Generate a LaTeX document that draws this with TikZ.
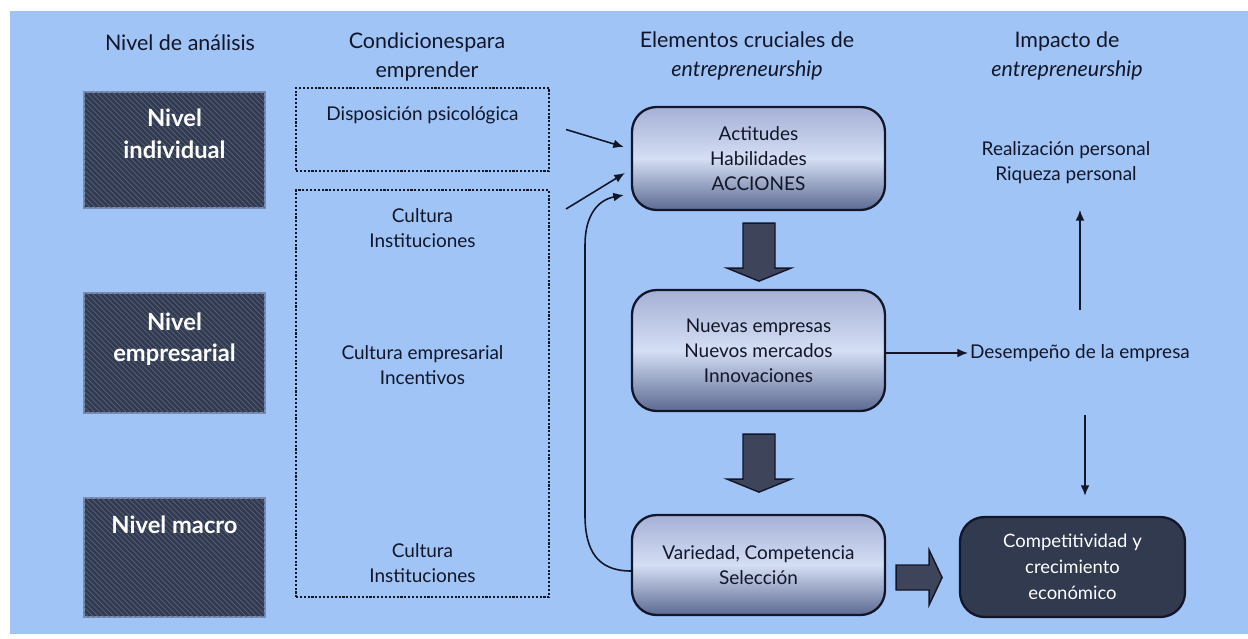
\documentclass[tikz,border=0pt]{standalone}
\usepackage{fontspec}
\setmainfont{Lato}
\usetikzlibrary{arrows.meta,calc,patterns}
\definecolor{bgblue}{RGB}{160,196,246}
\definecolor{navy}{RGB}{18,22,40}
\definecolor{darkbox}{RGB}{50,58,80}
\definecolor{hatch}{RGB}{88,98,124}
\definecolor{hatchline}{RGB}{120,140,180}
\definecolor{boxtop}{RGB}{165,176,214}
\definecolor{boxmid}{RGB}{212,222,244}
\definecolor{boxbot}{RGB}{92,106,146}
\definecolor{blockgray}{RGB}{62,68,90}
\begin{document}
\begin{tikzpicture}[x=0.02cm,y=-0.02cm,
    hdr/.style={font=\fontsize{12.2}{16.4}\selectfont,align=center,text=navy,inner sep=1pt},
    txt/.style={font=\fontsize{10.8}{14.2}\selectfont,align=center,text=navy,inner sep=1pt},
    nivel/.style={draw=hatchline,line width=0.8pt,fill=darkbox,
        postaction={pattern=north west lines,pattern color=hatch},
        minimum width=3.62cm,inner sep=0pt},
    nivtxt/.style={font=\bfseries\fontsize{13.5}{18}\selectfont,align=center,text=white},
    cond/.style={draw=navy,line width=1.2pt,densely dotted,minimum width=5.06cm,inner sep=0pt},
    elem/.style={draw=navy,line width=1.3pt,rounded corners=14pt,minimum width=5.06cm,
        top color=boxtop,bottom color=boxbot,middle color=boxmid,
        font=\fontsize{10.8}{14.2}\selectfont,align=center,text=navy},
    impacto/.style={draw=navy,line width=1.3pt,rounded corners=14pt,fill=darkbox,
        minimum width=4.5cm,minimum height=2cm,
        font=\fontsize{10.5}{14.7}\selectfont,align=center,text=white},
    arr/.style={-{Latex[length=6pt,width=5pt]},line width=0.9pt,draw=navy},
    blockarr/.style={fill=blockgray,draw=navy,line width=0.8pt}]

\useasboundingbox (0,0) rectangle (1248,639);
\fill[bgblue] (10,11) rectangle (1248,634);

% column headings
\node[hdr] (h1) at (180,43) {Nivel de análisis};
\node[hdr] (h2) at (427,57) {Condicionespara\\emprender};
\node[hdr] (h3) at (747,56) {Elementos cruciales de\\\textit{entrepreneurship}};
\node[hdr] (h4) at (1067,56) {Impacto de\\\textit{entrepreneurship}};

% levels of analysis
\node[nivel,minimum height=2.32cm] (ind) at (174.5,150) {};
\node[nivel,minimum height=2.4cm] (emp) at (174.5,353) {};
\node[nivel,minimum height=2.38cm] (mac) at (174.5,557.5) {};
\node[nivtxt] (indtxt) at (174.5,134) {Nivel\\individual};
\node[nivtxt] (emptxt) at (174.5,339) {Nivel\\empresarial};
\node[nivtxt] (mactxt) at (174.5,525) {Nivel macro};

% conditions
\node[cond,minimum height=1.66cm] (disp) at (422.5,129.5) {};
\node[cond,minimum height=8.14cm] (cond) at (422.5,393.5) {};
\node[txt] (disptxt) at (422.5,115) {Disposición psicológica};
\node[txt] (cul1) at (422.5,228) {Cultura\\Instituciones};
\node[txt] (culemp) at (422.5,365) {Cultura empresarial\\Incentivos};
\node[txt] (cul2) at (422.5,563) {Cultura\\Instituciones};

% crucial elements
\node[elem,minimum height=2.06cm] (act) at (758.5,158.5) {Actitudes\\Habilidades\\ACCIONES};
\node[elem,minimum height=2.42cm] (nue) at (758.5,350.5) {Nuevas empresas\\Nuevos mercados\\Innovaciones};
\node[elem,minimum height=2cm] (var) at (758.5,565) {Variedad, Competencia\\Selección};

% impact
\node[txt,anchor=center] (rea) at (1066,163) {Realización personal\\Riqueza personal};
\node[txt,anchor=west] (des) at (968,353) {Desempeño de la empresa};
\node[impacto] (comp) at (1072.5,567) {Competitividad y\\crecimiento\\económico};

% thin arrows
\coordinate (s1) at ($(disp.east)+(16,0)$);
\coordinate (s2) at ($(cond.north east)+(16,20)$);
\coordinate (in1) at ($(act.west)+(-7,-11.5)$);
\coordinate (in2) at ($(act.west)+(-6,14.5)$);
\coordinate (in3) at ($(act.west)+(-7,36.5)$);
\draw[arr] (s1) -- (in1);
\draw[arr] (s2) -- (in2);
\draw[arr] ($(var.west)+(0,6)$) .. controls (597,571) and (585,550) .. (585,515)
    -- (585,245) .. controls (585,215) and (598,200) .. (in3);
\draw[arr] (nue.east |- des.west) -- (des.west);
\coordinate (up0) at (1080,310);
\coordinate (up1) at (1080,210);
\draw[arr] (up0) -- (up1);
\coordinate (dn0) at (1085,415);
\draw[arr,shorten >=0.4cm] (dn0) -- (dn0 |- comp.north);

% block arrows
\draw[blockarr] ($(act.south)+(-15.5,12)$) -- ++(32,0) -- ++(0,45) -- ++(16,0)
    -- ++(-32,13) -- ++(-32,-13) -- ++(16,0) -- cycle;
\draw[blockarr] ($(nue.south)+(-15.5,22)$) -- ++(32,0) -- ++(0,45) -- ++(16,0)
    -- ++(-32,13) -- ++(-32,-13) -- ++(16,0) -- cycle;
\draw[blockarr] ($(var.east)+(10,0)$) -- ++(33,0) -- ++(0,-15) -- ++(13,27.5)
    -- ++(-13,27.5) -- ++(0,-15) -- ++(-33,0) -- cycle;
\end{tikzpicture}
\end{document}
